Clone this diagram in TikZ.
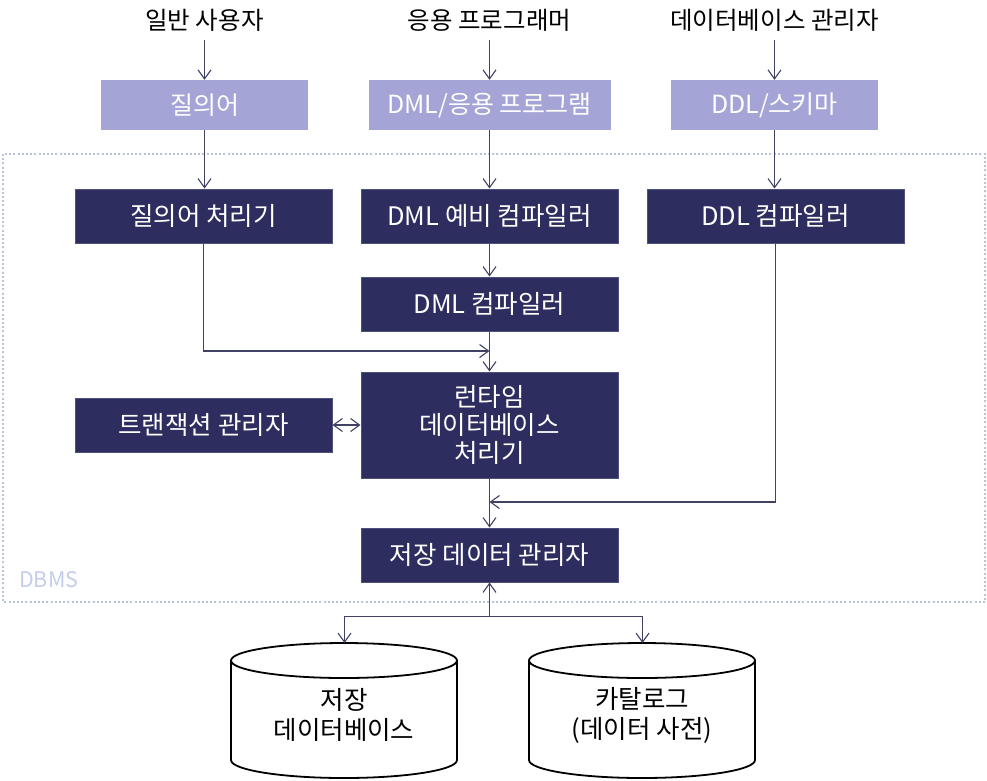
\documentclass[tikz,border=0pt]{standalone}
\usepackage{fontspec}
\setmainfont{Noto Sans CJK KR}
\usetikzlibrary{arrows.meta}
\definecolor{darkbox}{RGB}{45,45,96}
\definecolor{darkedge}{RGB}{80,80,125}
\definecolor{lightbox}{RGB}{164,164,214}
\definecolor{arrcol}{RGB}{65,65,100}
\definecolor{dbmsline}{RGB}{185,196,220}
\definecolor{dbmstext}{RGB}{195,205,235}
\tikzset{
  dbox/.style={draw=darkedge, line width=1pt, fill=darkbox, text=white, font=\fontsize{25.5}{28}\selectfont, inner sep=0pt, align=center},
  lbox/.style={fill=lightbox, text=white, font=\fontsize{25}{28}\selectfont, inner sep=0pt, minimum width=207pt, minimum height=50pt},
  toplabel/.style={font=\fontsize{24.5}{28}\selectfont, inner sep=0pt, minimum height=40pt},
  conn/.style={draw=arrcol, line width=1.2pt, -{Straight Barb[length=9pt,width=13pt,line width=1.1pt]}},
  dconn/.style={draw=arrcol, line width=1.2pt, {Straight Barb[length=9pt,width=13pt,line width=1.1pt]}-{Straight Barb[length=9pt,width=13pt,line width=1.1pt]}},
  cyl/.style={draw=black, line width=1.8pt, fill=white},
  cyltext/.style={font=\fontsize{25.5}{30}\selectfont, align=center, inner sep=0pt}
}
\begin{document}
\begin{tikzpicture}[x=1pt,y=-1pt]
\useasboundingbox (0,0) rectangle (987,780);
% DBMS frame
\draw[dbmsline, line width=2pt, dash pattern=on 2pt off 2.2pt] (3,154) rectangle (985,602);
\node[text=dbmstext, font=\fontsize{21.5}{24}\selectfont, anchor=west, inner sep=0pt] (dbms) at (19,580) {DBMS};

% top labels
\node[toplabel] (u1) at (204.5,20) {일반 사용자};
\node[toplabel] (u2) at (489.5,20) {응용 프로그래머};
\node[toplabel] (u3) at (774.5,20) {데이터베이스 관리자};

% light boxes
\node[lbox] (q) at (204.5,105) {질의어};
\node[lbox, minimum width=242pt] (app) at (489.5,105) {DML/응용 프로그램};
\node[lbox] (ddlsch) at (774.5,105) {DDL/스키마};

% dark boxes
\node[dbox, minimum width=257pt, minimum height=54pt] (qp) at (203.5,216) {질의어 처리기};
\node[dbox, minimum width=257pt, minimum height=54pt] (pre) at (489.5,216) {DML 예비 컴파일러};
\node[dbox, minimum width=257pt, minimum height=54pt] (ddlc) at (775.5,216) {DDL 컴파일러};
\node[dbox, minimum width=257pt, minimum height=54pt] (dmlc) at (489.5,304) {DML 컴파일러};
\node[dbox, minimum width=257pt, minimum height=106pt, font=\fontsize{25.5}{28}\selectfont] (rt) at (489.5,425) {런타임\\데이터베이스\\처리기};
\node[dbox, minimum width=257pt, minimum height=54pt] (tm) at (203.5,425) {트랜잭션 관리자};
\node[dbox, minimum width=257pt, minimum height=54pt] (sm) at (489.5,555) {저장 데이터 관리자};

% connectors top
\draw[conn] (u1.south) -- (q.north);
\draw[conn] (u2.south) -- (app.north);
\draw[conn] (u3.south) -- (ddlsch.north);
\draw[conn] (q.south) -- (q.south |- qp.north);
\draw[conn] (app.south) -- (pre.north);
\draw[conn] (ddlsch.south) -- (ddlsch.south |- ddlc.north);
\draw[conn] (pre.south) -- (dmlc.north);
\draw[conn] (dmlc.south) -- (rt.north);
\coordinate (j1) at (489.5,351);
\draw[conn] (qp.south) |- (j1);
\coordinate (j2) at (489.5,502);
\draw[conn] (ddlc.south) |- (j2);
\draw[conn] (rt.south) -- (sm.north);
\draw[dconn] (tm.east) -- (rt.west);

% cylinders
\draw[cyl] (231,660.5) -- (231,760) arc[start angle=180,end angle=360,x radius=113pt,y radius=18pt] -- (457,660.5);
\draw[cyl] (344,660.5) ellipse[x radius=113pt, y radius=17.5pt];
\node[cyltext] (db) at (344,715) {저장\\데이터베이스};
\draw[cyl] (529,660.5) -- (529,760) arc[start angle=180,end angle=360,x radius=113pt,y radius=18pt] -- (755,660.5);
\draw[cyl] (642,660.5) ellipse[x radius=113pt, y radius=17.5pt];
\node[cyltext] (cat) at (642,715) {카탈로그\\(데이터 사전)};
\coordinate (c1) at (344.5,643);
\coordinate (c2) at (642.5,643);

% bottom connectors
\coordinate (split) at (489.5,616.5);
\draw[conn] (split) -- (sm.south);
\draw[conn] (split) -| (c1);
\draw[conn] (split) -| (c2);
\end{tikzpicture}
\end{document}
